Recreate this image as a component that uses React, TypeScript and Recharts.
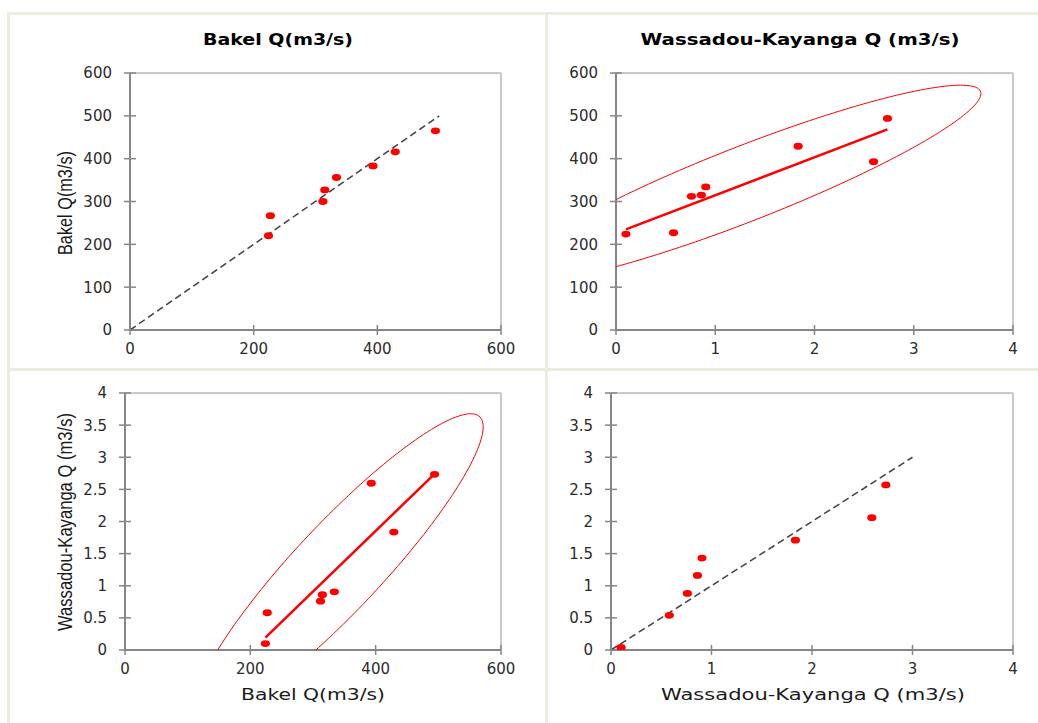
import React from 'react';
import { ScatterChart, Scatter, XAxis, YAxis, ReferenceLine } from 'recharts';

// ---- data ----
// paired observations: Bakel Q (m3/s) and Wassadou-Kayanga Q (m3/s)
const bakelObs = [224, 227, 312, 315, 334, 429, 393, 494];
const wkObs = [0.10, 0.58, 0.76, 0.86, 0.905, 1.835, 2.595, 2.735];
// estimated values plotted on the diagonal panels
const bakelEst = [220, 267, 300, 327, 356, 416, 383, 465];
const wkEst = [0.04, 0.54, 0.88, 1.16, 1.43, 1.71, 2.06, 2.57];

// 1:1 reference lines
const bakelOneToOne = [0, 500];
const wkOneToOne = [0, 3];

// tick labels
const bakelTicksX = [0, 200, 400, 600];
const bakelTicksY = [0, 100, 200, 300, 400, 500, 600];
const wkTicksX = [0, 1, 2, 3, 4];
const wkTicksY = [0, 0.5, 1, 1.5, 2, 2.5, 3, 3.5, 4];

// titles / labels
const titleBakel = 'Bakel Q(m3/s)';
const titleWk = 'Wassadou-Kayanga Q (m3/s)';
const labelBakel = 'Bakel Q(m3/s)';
const labelWk = 'Wassadou-Kayanga Q (m3/s)';

// 95% confidence level, chi-square with 2 degrees of freedom
const chi2_95 = 5.991;

// ---- derived series ----
const zip = (xs: number[], ys: number[]) => xs.map((x, i) => ({ x, y: ys[i] }));
const mean = (a: number[]) => a.reduce((s, v) => s + v, 0) / a.length;

function regressionLine(xs: number[], ys: number[]) {
  const mx = mean(xs), my = mean(ys);
  let sxy = 0, sxx = 0;
  xs.forEach((x, i) => { sxy += (x - mx) * (ys[i] - my); sxx += (x - mx) ** 2; });
  const b = sxy / sxx;
  const a = my - b * mx;
  const lo = Math.min(...xs), hi = Math.max(...xs);
  return [{ x: lo, y: a + b * lo }, { x: hi, y: a + b * hi }];
}

function confidenceEllipse(xs: number[], ys: number[]) {
  const n = xs.length;
  const mx = mean(xs), my = mean(ys);
  let sxx = 0, syy = 0, sxy = 0;
  xs.forEach((x, i) => {
    sxx += (x - mx) ** 2; syy += (ys[i] - my) ** 2; sxy += (x - mx) * (ys[i] - my);
  });
  sxx /= n - 1; syy /= n - 1; sxy /= n - 1;
  const k = Math.sqrt(chi2_95);
  const l11 = Math.sqrt(sxx);
  const l21 = sxy / l11;
  const l22 = Math.sqrt(Math.max(syy - l21 * l21, 0));
  const pts: { x: number; y: number }[] = [];
  const steps = 180;
  for (let i = 0; i <= steps; i++) {
    const t = (2 * Math.PI * i) / steps;
    const c = Math.cos(t), s = Math.sin(t);
    pts.push({ x: mx + k * l11 * c, y: my + k * (l21 * c + l22 * s) });
  }
  return pts;
}

const p1Points = zip(bakelObs, bakelEst);
const p1Diag = zip(bakelOneToOne, bakelOneToOne);
const p2Points = zip(wkObs, bakelObs);
const p2Reg = regressionLine(wkObs, bakelObs);
const p2Ell = confidenceEllipse(wkObs, bakelObs);
const p3Points = zip(bakelObs, wkObs);
const p3Reg = regressionLine(bakelObs, wkObs);
const p3Ell = confidenceEllipse(bakelObs, wkObs);
const p4Points = zip(wkObs, wkEst);
const p4Diag = zip(wkOneToOne, wkOneToOne);

// ---- styling ----
const RED = '#ff0000';
const AXIS = '#868686';
const BORDER = '#c9c9c9';
const TICK_TEXT = '#2b2b2b';
const FRAME = '#eeece1';

const axisLine = { stroke: AXIS, strokeWidth: 2 };

const YTick = (p: any) => {
  const { x, y, payload } = p;
  return (
    <g>
      <line x1={x - 6} x2={x + 6} y1={y} y2={y} stroke={AXIS} strokeWidth={1.5} />
      <text x={x - 18} y={y} dy="0.36em" textAnchor="end" fontSize={15}
        fontFamily="'DejaVu Sans', Verdana, sans-serif" fill={TICK_TEXT}>
        {String(payload.value)}
      </text>
    </g>
  );
};

const XTick = (p: any) => {
  const { x, y, payload } = p;
  return (
    <g>
      <line x1={x} x2={x} y1={y - 5} y2={y + 5} stroke={AXIS} strokeWidth={1.5} />
      <text x={x} y={y + 24} textAnchor="middle" fontSize={15}
        fontFamily="'DejaVu Sans', Verdana, sans-serif" fill={TICK_TEXT}>
        {String(payload.value)}
      </text>
    </g>
  );
};

const Dot = (p: any) => <ellipse cx={p.cx} cy={p.cy} rx={4.6} ry={3.4} fill={RED} />;
const NoDot = () => <g />;

type PanelProps = {
  left: number; top: number; width: number; height: number;
  margin: { top: number; right: number; bottom: number; left: number };
  yAxisWidth: number;
  xDomain: [number, number]; yDomain: [number, number];
  xTicks: number[]; yTicks: number[];
  points: { x: number; y: number }[];
  diag?: { x: number; y: number }[];
  reg?: { x: number; y: number }[];
  ell?: { x: number; y: number }[];
};

const Panel = (pp: PanelProps) => (
  <div style={{ position: 'absolute', left: pp.left, top: pp.top }}>
    <ScatterChart width={pp.width} height={pp.height} margin={pp.margin}>
      <XAxis type="number" dataKey="x" domain={pp.xDomain} ticks={pp.xTicks} interval={0}
        allowDataOverflow axisLine={axisLine} tickLine={false} tickSize={0} tickMargin={0}
        height={30} tick={(p: any) => <XTick {...p} />} />
      <YAxis type="number" dataKey="y" domain={pp.yDomain} ticks={pp.yTicks} interval={0}
        allowDataOverflow axisLine={axisLine} tickLine={false} tickSize={0} tickMargin={0}
        width={pp.yAxisWidth} tick={(p: any) => <YTick {...p} />} />
      <ReferenceLine y={pp.yDomain[1]} stroke={BORDER} strokeWidth={2} />
      <ReferenceLine x={pp.xDomain[1]} stroke={BORDER} strokeWidth={2} />
      {pp.diag && (
        <Scatter data={pp.diag} isAnimationActive={false} shape={NoDot} lineType="joint"
          line={{ stroke: '#404040', strokeWidth: 1.5, strokeDasharray: '7 4' }} />
      )}
      {pp.ell && (
        <Scatter data={pp.ell} isAnimationActive={false} shape={NoDot} lineType="joint"
          line={{ stroke: RED, strokeWidth: 1 }} />
      )}
      {pp.reg && (
        <Scatter data={pp.reg} isAnimationActive={false} shape={NoDot} lineType="joint"
          line={{ stroke: RED, strokeWidth: 2.5 }} />
      )}
      <Scatter data={pp.points} isAnimationActive={false} shape={Dot} fill={RED} />
    </ScatterChart>
  </div>
);

export default function App() {
  return (
    <div style={{ position: 'absolute', left: 0, top: 0, width: 1038, height: 723, background: '#ffffff', overflow: 'hidden' }}>
      <svg width={1038} height={723} style={{ position: 'absolute', left: 0, top: 0 }}>
        {/* frame */}
        <rect x={7} y={12} width={3} height={711} fill={FRAME} />
        <rect x={7} y={12} width={1031} height={3} fill={FRAME} />
        <rect x={545} y={12} width={3} height={711} fill={FRAME} />
        <rect x={7} y={368} width={1031} height={3} fill={FRAME} />
        {/* titles */}
        <text x={278} y={45} textAnchor="middle" fontSize={16.5} fontWeight="bold"
          fontFamily="'DejaVu Sans', Verdana, sans-serif" fill="#000" textLength={150}
          lengthAdjust="spacingAndGlyphs">{titleBakel}</text>
        <text x={800} y={45} textAnchor="middle" fontSize={16.5} fontWeight="bold"
          fontFamily="'DejaVu Sans', Verdana, sans-serif" fill="#000" textLength={319}
          lengthAdjust="spacingAndGlyphs">{titleWk}</text>
        {/* y labels */}
        <text transform="translate(72,203) rotate(-90)" textAnchor="middle" fontSize={20}
          fontFamily="'Liberation Sans', Arial, sans-serif" fill="#1a1a1a" textLength={104}
          lengthAdjust="spacingAndGlyphs">{labelBakel}</text>
        <text transform="translate(72,522) rotate(-90)" textAnchor="middle" fontSize={20}
          fontFamily="'Liberation Sans', Arial, sans-serif" fill="#1a1a1a" textLength={218}
          lengthAdjust="spacingAndGlyphs">{labelWk}</text>
        {/* x labels */}
        <text x={313} y={700} textAnchor="middle" fontSize={16.5}
          fontFamily="'DejaVu Sans', Verdana, sans-serif" fill="#1a1a1a" textLength={144}
          lengthAdjust="spacingAndGlyphs">{labelBakel}</text>
        <text x={813} y={700} textAnchor="middle" fontSize={16.5}
          fontFamily="'DejaVu Sans', Verdana, sans-serif" fill="#1a1a1a" textLength={304}
          lengthAdjust="spacingAndGlyphs">{labelWk}</text>
      </svg>

      <Panel left={0} top={0} width={547} height={370}
        margin={{ top: 73, right: 46, bottom: 10, left: 0 }} yAxisWidth={130}
        xDomain={[0, 600]} yDomain={[0, 600]} xTicks={bakelTicksX} yTicks={bakelTicksY}
        points={p1Points} diag={p1Diag} />
      <Panel left={547} top={0} width={491} height={370}
        margin={{ top: 73, right: 25, bottom: 10, left: 0 }} yAxisWidth={69}
        xDomain={[0, 4]} yDomain={[0, 600]} xTicks={wkTicksX} yTicks={bakelTicksY}
        points={p2Points} reg={p2Reg} ell={p2Ell} />
      <Panel left={0} top={370} width={547} height={353}
        margin={{ top: 23, right: 46, bottom: 43, left: 0 }} yAxisWidth={125}
        xDomain={[0, 600]} yDomain={[0, 4]} xTicks={bakelTicksX} yTicks={wkTicksY}
        points={p3Points} reg={p3Reg} ell={p3Ell} />
      <Panel left={547} top={370} width={491} height={353}
        margin={{ top: 23, right: 25, bottom: 43, left: 0 }} yAxisWidth={64}
        xDomain={[0, 4]} yDomain={[0, 4]} xTicks={wkTicksX} yTicks={wkTicksY}
        points={p4Points} diag={p4Diag} />
    </div>
  );
}
